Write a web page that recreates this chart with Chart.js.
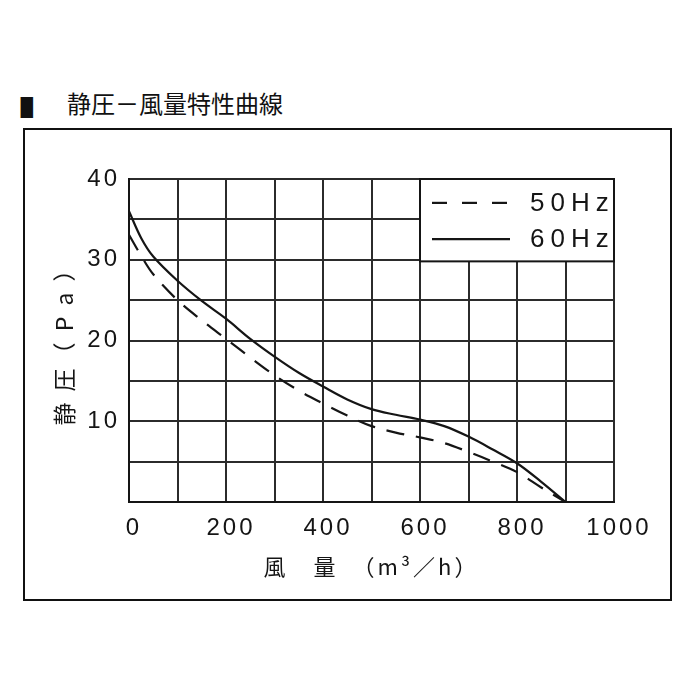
<!DOCTYPE html>
<html>
<head>
<meta charset="utf-8">
<script src="https://cdn.jsdelivr.net/npm/chart.js@4.4.1/dist/chart.umd.min.js"></script>
<style>
html,body{margin:0;padding:0;background:#fff;width:700px;height:700px;overflow:hidden}
#sq{position:absolute;left:19px;top:93px;font:20px/20px "Noto Sans CJK JP";color:#111;transform-origin:0 0;transform:scale(0.78,1.32)}
#title{position:absolute;left:67px;top:89px;font:24px/27px "Noto Sans CJK JP";color:#111;white-space:pre}
#frame{position:absolute;left:23px;top:128px;width:645px;height:469px;border:2px solid #111}
#wrap{position:absolute;left:0;top:0;width:700px;height:700px}
</style>
</head>
<body>
<div id="title">静圧－風量特性曲線</div>
<div id="sq"></div>
<div id="frame"></div>
<div id="wrap"><canvas id="c" width="700" height="700"></canvas></div>
<script>
// ---- data ----
const flow60 = [0, 25, 50, 100, 150, 200, 250, 300, 350, 400, 450, 500, 550, 600, 650, 700, 750, 800, 850, 900];
const pres60 = [36.0, 32.7, 30.4, 27.4, 24.9, 22.7, 20.2, 18.0, 16.0, 14.3, 12.7, 11.5, 10.8, 10.2, 9.4, 8.1, 6.5, 4.8, 2.5, 0];
const flow50 = [0, 25, 50, 100, 150, 200, 250, 300, 350, 400, 450, 500, 550, 600, 650, 700, 750, 800, 850, 900];
const pres50 = [33.1, 30.5, 28.2, 25.0, 22.5, 20.2, 17.9, 15.7, 13.8, 12.2, 10.7, 9.4, 8.6, 8.0, 7.3, 6.2, 5.0, 3.7, 1.8, 0];
const seriesNames = ['50Hz', '60Hz'];
const xLabelTicks = [0, 200, 400, 600, 800, 1000];
const yLabelTicks = [10, 20, 30, 40];
const titleText = '静圧－風量特性曲線';
const xTitle = '風　量　（m³／h）';
const yTitle = '静 圧（ P a ）';

document.getElementById('sq').textContent = '■';
document.getElementById('title').textContent = titleText;

const INK = '#151515';
const GRID = '#2b2b2b';
const NUMFONT = '"Liberation Sans Narrow", "Liberation Sans", "DejaVu Sans Condensed", sans-serif';
const CJKFONT = '"Noto Sans CJK JP", "Noto Sans", sans-serif';

const pts = (xs, ys) => xs.map((x, i) => ({x: x, y: ys[i]}));

const spacingPlugin = {
  id: 'spacing',
  beforeDraw(chart) { chart.ctx.letterSpacing = '3px'; }
};

const legendPlugin = {
  id: 'boxLegend',
  afterDraw(chart) {
    const {ctx, scales} = chart;
    const x = scales.x, y = scales.y;
    const left = x.getPixelForValue(600), right = x.getPixelForValue(1000);
    const top = y.getPixelForValue(40), bottom = y.getPixelForValue(29.8);
    ctx.save();
    ctx.fillStyle = '#fff';
    ctx.fillRect(left, top, right - left, bottom - top);
    ctx.strokeStyle = INK;
    ctx.lineWidth = 2;
    ctx.strokeRect(left, top, right - left, bottom - top);
    const rows = [
      {name: seriesNames[0], dash: [15, 15], yy: top + (bottom - top) * 0.29},
      {name: seriesNames[1], dash: [], yy: top + (bottom - top) * 0.73}
    ];
    rows.forEach(r => {
      ctx.beginPath();
      ctx.setLineDash(r.dash);
      ctx.lineWidth = 2.2;
      ctx.moveTo(left + 12, r.yy);
      ctx.lineTo(left + 90, r.yy);
      ctx.stroke();
      ctx.setLineDash([]);
      ctx.fillStyle = INK;
      ctx.font = '26px ' + NUMFONT;
      ctx.letterSpacing = '6px';
      ctx.textAlign = 'left';
      ctx.textBaseline = 'middle';
      ctx.fillText(r.name, left + 110, r.yy + 1);
    });
    ctx.restore();
  }
};

new Chart(document.getElementById('c'), {
  type: 'line',
  data: {
    datasets: [
      {label: seriesNames[0], data: pts(flow50, pres50), borderColor: INK, borderWidth: 2.2,
       borderDash: [18, 12], pointRadius: 0, tension: 0.35, fill: false},
      {label: seriesNames[1], data: pts(flow60, pres60), borderColor: INK, borderWidth: 2.2,
       pointRadius: 0, tension: 0.35, fill: false}
    ]
  },
  options: {
    responsive: false,
    animation: false,
    devicePixelRatio: 1,
    layout: {padding: {left: 29, right: 86, top: 179, bottom: 100}},
    plugins: {legend: {display: false}, tooltip: {enabled: false}, title: {display: false}},
    scales: {
      x: {
        type: 'linear', min: 0, max: 1000,
        afterFit(s) { s.height = 98; },
        ticks: {
          stepSize: 100, padding: 12, color: INK, maxRotation: 0, autoSkip: false, labelOffset: 5,
          font: {family: NUMFONT, size: 24},
          callback: v => xLabelTicks.includes(v) ? String(v) : ''
        },
        grid: {color: GRID, lineWidth: 2, drawTicks: false},
        border: {color: INK, width: 2},
        title: {display: true, text: xTitle, color: INK, font: {family: CJKFONT, size: 22},
                padding: {top: 0, bottom: 20}}
      },
      y: {
        type: 'linear', min: 0, max: 40,
        afterFit(s) { s.width = 100; },
        ticks: {
          stepSize: 5, padding: 9, color: INK, autoSkip: false,
          font: {family: NUMFONT, size: 24},
          callback: v => yLabelTicks.includes(v) ? String(v) : ''
        },
        grid: {color: GRID, lineWidth: 2, drawTicks: false},
        border: {color: INK, width: 2},
        title: {display: true, text: yTitle, color: INK, font: {family: CJKFONT, size: 23},
                padding: {top: 21, bottom: 0}}
      }
    }
  },
  plugins: [spacingPlugin, legendPlugin]
});
</script>
</body>
</html>
